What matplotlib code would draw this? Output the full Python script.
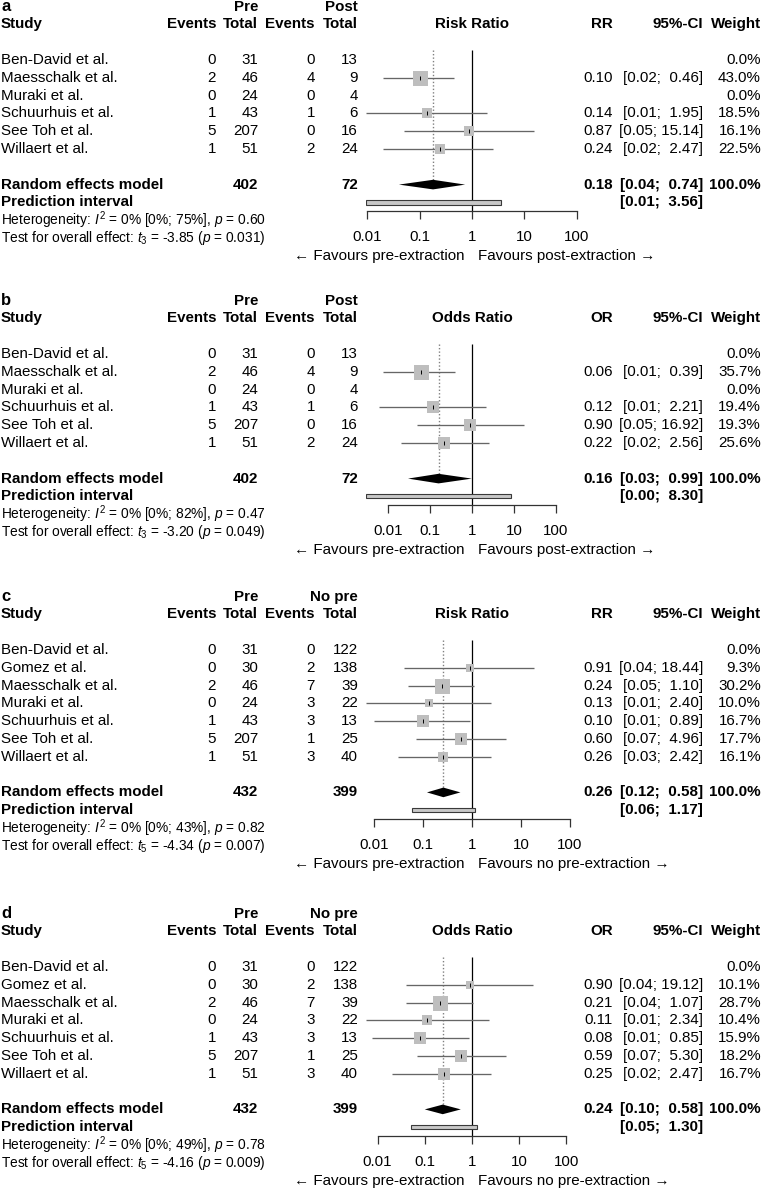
"""
Forest plots (a-d): pre- vs post-/no pre-extraction, risk ratio and odds ratio.
"""

import numpy as np
import matplotlib
matplotlib.use('Agg')
import matplotlib.pyplot as plt
from matplotlib.ticker import NullLocator

plt.rcParams['font.family'] = ['Liberation Sans', 'DejaVu Sans']
plt.rcParams['mathtext.fontset'] = 'custom'
plt.rcParams['mathtext.rm'] = 'Liberation Sans'
plt.rcParams['mathtext.it'] = 'Liberation Sans:italic'
plt.rcParams['mathtext.bf'] = 'Liberation Sans:bold'

nan = np.nan

# ---- data -------------------------------------------------------------
studies_ab = ['Ben-David et al.', 'Maesschalk et al.', 'Muraki et al.',
              'Schuurhuis et al.', 'See Toh et al.', 'Willaert et al.']
studies_cd = ['Ben-David et al.', 'Gomez et al.', 'Maesschalk et al.', 'Muraki et al.',
              'Schuurhuis et al.', 'See Toh et al.', 'Willaert et al.']

ab_pre_events = [0, 2, 0, 1, 5, 1]
ab_pre_total = [31, 46, 24, 43, 207, 51]
ab_post_events = [0, 4, 0, 1, 0, 2]
ab_post_total = [13, 9, 4, 6, 16, 24]

cd_pre_events = [0, 0, 2, 0, 1, 5, 1]
cd_pre_total = [31, 30, 46, 24, 43, 207, 51]
cd_nopre_events = [0, 2, 7, 3, 3, 1, 3]
cd_nopre_total = [122, 138, 39, 22, 13, 25, 40]

# panel a: risk ratio, pre vs post
a_est = [nan, 0.10, nan, 0.14, 0.87, 0.24]
a_lower = [nan, 0.02, nan, 0.0094, 0.05, 0.02]
a_upper = [nan, 0.46, nan, 1.95, 15.14, 2.47]
a_weight = [0.0, 43.0, 0.0, 18.5, 16.1, 22.5]
a_pooled = [0.18, 0.04, 0.74]
a_pred = [0.0094, 3.56]
a_het = ['0%', '[0%; 75%]', '0.60']
a_test = ['3', '-3.85', '0.031']

# panel b: odds ratio, pre vs post
b_est = [nan, 0.06, nan, 0.12, 0.90, 0.22]
b_lower = [nan, 0.0076, nan, 0.0061, 0.05, 0.02]
b_upper = [nan, 0.39, nan, 2.21, 16.92, 2.56]
b_weight = [0.0, 35.7, 0.0, 19.4, 19.3, 25.6]
b_pooled = [0.16, 0.03, 0.99]
b_pred = [0.003, 8.30]
b_het = ['0%', '[0%; 82%]', '0.47']
b_test = ['3', '-3.20', '0.049']

# panel c: risk ratio, pre vs no pre
c_est = [nan, 0.91, 0.24, 0.13, 0.10, 0.60, 0.26]
c_lower = [nan, 0.04, 0.05, 0.0068, 0.01, 0.07, 0.03]
c_upper = [nan, 18.44, 1.10, 2.40, 0.89, 4.96, 2.42]
c_weight = [0.0, 9.3, 30.2, 10.0, 16.7, 17.7, 16.1]
c_pooled = [0.26, 0.12, 0.58]
c_pred = [0.06, 1.17]
c_het = ['0%', '[0%; 43%]', '0.82']
c_test = ['5', '-4.34', '0.007']

# panel d: odds ratio, pre vs no pre
d_est = [nan, 0.90, 0.21, 0.11, 0.08, 0.59, 0.25]
d_lower = [nan, 0.04, 0.04, 0.0057, 0.0076, 0.07, 0.02]
d_upper = [nan, 19.12, 1.07, 2.34, 0.85, 5.30, 2.47]
d_weight = [0.0, 10.1, 28.7, 10.4, 15.9, 18.2, 16.7]
d_pooled = [0.24, 0.10, 0.58]
d_pred = [0.05, 1.30]
d_het = ['0%', '[0%; 49%]', '0.78']
d_test = ['5', '-4.16', '0.009']

tick_values = [0.01, 0.1, 1, 10, 100]
tick_labels = ['0.01', '0.1', '1', '10', '100']

# ---- layout (pixels) --------------------------------------------------
W, H = 762, 1191
STEP = 17.8
FS = 10.9
FS_SMALL = 9.9
X_EV1, X_TOT1, X_EV2, X_TOT2 = 216, 258, 315, 358
X_EFF, X_CI, X_W = 613, 703, 761
FX0, FX1 = 366, 578          # forest area
SQ_COL = '#bebebe'
LINE_COL = '#666666'


def fmt_ci(lo, hi):
    return f"[{lo:.2f}; {hi:5.2f}]"


def draw_panel(fig, ax, base, letter, studies, ev1, tot1, ev2, tot2, grp2,
               measure, eff_label, est, lower, upper, weight, pooled, pred,
               het, test, right_label):
    n = len(studies)

    def row(r):
        return base + STEP * r

    # header
    ax.text(1, row(-3), letter, fontsize=12, fontweight='bold', va='center')
    ax.text(X_TOT1, row(-3), 'Pre', fontsize=FS, fontweight='bold', ha='right', va='center')
    ax.text(X_TOT2, row(-3), grp2, fontsize=FS, fontweight='bold', ha='right', va='center')
    ax.text(1, row(-2), 'Study', fontsize=FS, fontweight='bold', va='center')
    for x, s in [(X_EV1, 'Events'), (X_TOT1, 'Total'), (X_EV2, 'Events'), (X_TOT2, 'Total'),
                 (X_EFF, eff_label), (X_CI, '95%-CI'), (X_W, 'Weight')]:
        ax.text(x, row(-2), s, fontsize=FS, fontweight='bold', ha='right', va='center')

    # study rows
    for i in range(n):
        y = row(i)
        ax.text(1, y, studies[i], fontsize=FS, va='center')
        for x, v in [(X_EV1, ev1[i]), (X_TOT1, tot1[i]), (X_EV2, ev2[i]), (X_TOT2, tot2[i])]:
            ax.text(x, y, str(v), fontsize=FS, ha='right', va='center')
        if not np.isnan(est[i]):
            ax.text(X_EFF, y, f"{est[i]:.2f}", fontsize=FS, ha='right', va='center')
            ax.text(X_CI, y, fmt_ci(lower[i], upper[i]), fontsize=FS, ha='right', va='center')
        ax.text(X_W, y, f"{weight[i]:.1f}%", fontsize=FS, ha='right', va='center')

    # pooled rows
    y_re = row(n + 1)
    y_pi = row(n + 2)
    ax.text(1, y_re, 'Random effects model', fontsize=FS, fontweight='bold', va='center')
    ax.text(X_TOT1, y_re, str(sum(tot1)), fontsize=FS, fontweight='bold', ha='right', va='center')
    ax.text(X_TOT2, y_re, str(sum(tot2)), fontsize=FS, fontweight='bold', ha='right', va='center')
    ax.text(X_EFF, y_re, f"{pooled[0]:.2f}", fontsize=FS, fontweight='bold', ha='right', va='center')
    ax.text(X_CI, y_re, fmt_ci(pooled[1], pooled[2]), fontsize=FS, fontweight='bold', ha='right', va='center')
    ax.text(X_W, y_re, '100.0%', fontsize=FS, fontweight='bold', ha='right', va='center')
    ax.text(1, y_pi, 'Prediction interval', fontsize=FS, fontweight='bold', va='center')
    ax.text(X_CI, y_pi, fmt_ci(pred[0], pred[1]), fontsize=FS, fontweight='bold', ha='right', va='center')

    ax.text(1, row(n + 3), r"Heterogeneity: $I^2$ = %s %s, $p$ = %s" % (het[0], het[1], het[2]),
            fontsize=FS_SMALL, va='center')
    ax.text(1, row(n + 4), r"Test for overall effect: $t_{%s}$ = %s ($p$ = %s)" % (test[0], test[1], test[2]),
            fontsize=FS_SMALL, va='center')

    ax.text(465, row(n + 5), '\u2190 Favours pre-extraction', fontsize=FS, ha='right', va='center')
    ax.text(478, row(n + 5), right_label + ' \u2192', fontsize=FS, ha='left', va='center')

    # forest part, log scale, symmetric limits around 1
    vals = [v for v in list(lower) + list(upper) + list(pred) if not np.isnan(v)]
    half = max(2.0, max(abs(np.log10(v)) for v in vals))
    fx = fig.add_axes([FX0 / W, 0, (FX1 - FX0) / W, 1])
    fx.patch.set_visible(False)
    fx.set_xscale('log')
    fx.set_xlim(10 ** -half, 10 ** half)
    fx.set_ylim(H, 0)

    y_axis = row(n + 2.5)
    y_top = row(-0.55)
    fx.vlines(1, y_top, y_axis, color='black', lw=0.9, zorder=1)
    fx.vlines(pooled[0], y_top, y_re, color='#808080', lw=1.0, linestyles=(0, (1, 1.5)), zorder=1)

    wmax = max(weight)
    for i in range(n):
        if np.isnan(est[i]):
            continue
        y = row(i)
        side = 15.0 * np.sqrt(weight[i] / wmax)
        fx.hlines(y, lower[i], upper[i], color=LINE_COL, lw=0.95, zorder=2)
        fx.scatter([est[i]], [y], marker='s', s=(side * 0.72) ** 2, color=SQ_COL,
                   linewidths=0, zorder=3)
        fx.scatter([est[i]], [y], marker='|', s=(5 * 0.72) ** 2, color='black',
                   linewidths=0.7, zorder=4)

    # diamond
    fx.fill([pooled[1], pooled[0], pooled[2], pooled[0]],
            [y_re, y_re - 4.8, y_re, y_re + 4.8], color='black', lw=0, zorder=3)
    # prediction interval
    fx.barh(y_pi, width=pred[1] - pred[0], left=pred[0], height=4.2, color='#c8c8c8',
            edgecolor='#3a3a3a', linewidth=0.8, zorder=3)

    for s in ['top', 'left', 'right']:
        fx.spines[s].set_visible(False)
    fx.spines['bottom'].set_position(('data', y_axis))
    fx.spines['bottom'].set_bounds(0.01, 100)
    fx.spines['bottom'].set_linewidth(0.9)
    fx.spines['bottom'].set_color('#333333')
    fx.set_xticks(tick_values)
    fx.set_xticklabels(tick_labels)
    fx.xaxis.set_minor_locator(NullLocator())
    fx.set_yticks([])
    fx.tick_params(axis='x', direction='out', length=5.8, width=0.9, color='#333333',
                   pad=8, labelsize=FS)

    # header over forest
    ax.text(472, row(-2), measure, fontsize=FS, fontweight='bold', ha='center', va='center')


fig = plt.figure(figsize=(W / 100, H / 100), dpi=100)
ax = fig.add_axes([0, 0, 1, 1])
ax.set_xlim(0, W)
ax.set_ylim(H, 0)
ax.axis('off')

draw_panel(fig, ax, 60, 'a', studies_ab, ab_pre_events, ab_pre_total, ab_post_events, ab_post_total,
           'Post', 'Risk Ratio', 'RR', a_est, a_lower, a_upper, a_weight, a_pooled, a_pred,
           a_het, a_test, 'Favours post-extraction')
draw_panel(fig, ax, 354, 'b', studies_ab, ab_pre_events, ab_pre_total, ab_post_events, ab_post_total,
           'Post', 'Odds Ratio', 'OR', b_est, b_lower, b_upper, b_weight, b_pooled, b_pred,
           b_het, b_test, 'Favours post-extraction')
draw_panel(fig, ax, 650, 'c', studies_cd, cd_pre_events, cd_pre_total, cd_nopre_events, cd_nopre_total,
           'No pre', 'Risk Ratio', 'RR', c_est, c_lower, c_upper, c_weight, c_pooled, c_pred,
           c_het, c_test, 'Favours no pre-extraction')
draw_panel(fig, ax, 967, 'd', studies_cd, cd_pre_events, cd_pre_total, cd_nopre_events, cd_nopre_total,
           'No pre', 'Odds Ratio', 'OR', d_est, d_lower, d_upper, d_weight, d_pooled, d_pred,
           d_het, d_test, 'Favours no pre-extraction')

fig.savefig('out.png', dpi=100)
